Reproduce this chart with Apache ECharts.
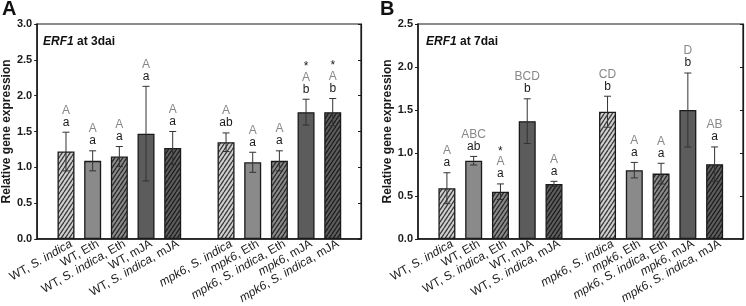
<!DOCTYPE html>
<html>
<head>
<meta charset="utf-8">
<script src="https://cdn.jsdelivr.net/npm/echarts@6/dist/echarts.min.js"></script>
<style>html,body{margin:0;padding:0;background:#fff;}#c{width:746px;height:306px;}</style>
</head>
<body>
<div id="c"></div>
<script>
// ---------- data ----------
const categories = ['WT, S. indica', 'WT, Eth', 'WT, S. indica, Eth', 'WT, mJA', 'WT, S. indica, mJA',
  'mpk6, S. indica', 'mpk6, Eth', 'mpk6, S. indica, Eth', 'mpk6, mJA', 'mpk6, S. indica, mJA'];
const meanA = [1.22, 1.09, 1.15, 1.47, 1.27, 1.35, 1.07, 1.09, 1.77, 1.77];
const errA  = [0.27, 0.14, 0.14, 0.66, 0.23, 0.13, 0.14, 0.14, 0.18, 0.19];
const upperA = ['A', 'A', 'A', 'A', 'A', 'A', 'A', 'A', 'A', 'A'];
const lowerA = ['a', 'a', 'a', 'a', 'a', 'ab', 'a', 'a', 'b', 'b'];
const starA  = ['', '', '', '', '', '', '', '', '*', '*'];
const meanB = [0.59, 0.91, 0.55, 1.37, 0.64, 1.48, 0.80, 0.76, 1.50, 0.87];
const errB  = [0.18, 0.05, 0.09, 0.26, 0.03, 0.18, 0.09, 0.12, 0.43, 0.20];
const upperB = ['A', 'ABC', 'A', 'BCD', 'A', 'CD', 'A', 'A', 'D', 'AB'];
const lowerB = ['a', 'ab', 'a', 'b', 'a', 'b', 'a', 'a', 'b', 'a'];
const starB  = ['', '', '*', '', '', '', '', '', '', ''];
const titleA = 'ERF1 at 3dai';
const titleB = 'ERF1 at 7dai';
const yTicksA = [0, 0.5, 1.0, 1.5, 2.0, 2.5, 3.0];
const yTicksB = [0, 0.5, 1.0, 1.5, 2.0, 2.5];

// ---------- styling ----------
const FONT = 'Liberation Sans, Arial, Helvetica, sans-serif';
function hatch(base, line) {
  const w = 4, h = 6;
  const c = document.createElement('canvas');
  c.width = w; c.height = h;
  const g = c.getContext('2d');
  g.fillStyle = base; g.fillRect(0, 0, w, h);
  g.strokeStyle = line; g.lineWidth = 1.3;
  g.beginPath();
  for (const dx of [-w, 0, w]) { g.moveTo(dx, h); g.lineTo(dx + w, 0); }
  g.stroke();
  return { image: c, repeat: 'repeat' };
}
const fills = [
  hatch('#d0d0d0', '#3a3a3a'),
  '#8a8a8a',
  hatch('#8a8a8a', '#2a2a2a'),
  '#5c5c5c',
  hatch('#5e5e5e', '#1e1e1e')
];
const xPos = categories.map((_, i) => i < 5 ? i : i + 1);

function labelText(s) {
  return s.replace('S. indica', '{i|S. indica}').replace('mpk6', '{i|mpk6}');
}

function makePanel(gi, means, errs, upper, lower, star, maxY, ticks) {
  const grid = gi === 0 ? { left: 35, top: 24, width: 326, height: 216 } : { left: 418, top: 24, width: 325, height: 215 };
  Object.assign(grid, { show: true, borderColor: '#1a1a1a', borderWidth: 1.2, backgroundColor: 'transparent' });
  const xAxis = {
    type: 'value', gridIndex: gi, min: -1.08, max: 11.06,
    axisLine: { show: true, onZero: false, lineStyle: { color: '#1a1a1a', width: 1.5 } },
    axisTick: { show: false }, splitLine: { show: false },
    axisLabel: {
      customValues: xPos.map(v => v + 0.2),
      rotate: 30, margin: 4, fontSize: 12, color: '#1a1a1a', fontFamily: FONT,
      formatter: v => labelText(categories[xPos.indexOf(Math.round(v))] || ''),
      rich: { i: { fontStyle: 'italic', fontSize: 12, color: '#1a1a1a', fontFamily: FONT } }
    }
  };
  const yLeft = {
    type: 'value', gridIndex: gi, min: 0, max: maxY, interval: 0.5, position: 'left',
    name: 'Relative gene expression', nameLocation: 'middle', nameGap: 23,
    nameTextStyle: { fontWeight: 'bold', fontSize: 12, color: '#1a1a1a', fontFamily: FONT },
    axisLine: { show: true, onZero: false, lineStyle: { color: '#1a1a1a', width: 1.5 } },
    axisTick: { show: true, length: 3, lineStyle: { color: '#1a1a1a' } },
    splitLine: { show: false },
    axisLabel: { customValues: ticks, margin: 5, fontSize: 11, fontWeight: 'bold', color: '#1a1a1a', fontFamily: FONT,
      formatter: v => v.toFixed(1) }
  };
  const yRight = {
    type: 'value', gridIndex: gi, min: 0, max: maxY, interval: 0.5, position: 'right',
    axisLine: { show: true, onZero: false, lineStyle: { color: '#1a1a1a', width: 1.2 } },
    axisTick: { show: true, inside: true, length: 3, lineStyle: { color: '#1a1a1a' } },
    axisLabel: { show: false }, splitLine: { show: false }
  };
  const bars = {
    type: 'bar', xAxisIndex: gi, yAxisIndex: gi * 2, barWidth: 17,
    data: means.map((m, i) => ({
      value: [xPos[i], m],
      itemStyle: { color: fills[i % 5], borderColor: '#1a1a1a', borderWidth: 1.3 }
    })),
    z: 2
  };
  const errSeries = {
    type: 'custom', xAxisIndex: gi, yAxisIndex: gi * 2, z: 5,
    data: means.map((m, i) => [xPos[i], m - errs[i], m + errs[i], i]),
    renderItem: (params, api) => {
      const x = api.value(0), lo = api.value(1), hi = api.value(2), idx = api.value(3);
      const pLo = api.coord([x, lo]), pHi = api.coord([x, hi]);
      const cw = 3.5;
      const ls = { stroke: '#333', lineWidth: 1 };
      let txt = '';
      if (star[idx]) txt += '{s|' + star[idx] + '}\n';
      txt += '{u|' + upper[idx] + '}\n{l|' + lower[idx] + '}';
      return {
        type: 'group',
        children: [
          { type: 'line', shape: { x1: pLo[0], y1: pLo[1], x2: pHi[0], y2: pHi[1] }, style: ls },
          { type: 'line', shape: { x1: pLo[0] - cw, y1: pLo[1], x2: pLo[0] + cw, y2: pLo[1] }, style: ls },
          { type: 'line', shape: { x1: pHi[0] - cw, y1: pHi[1], x2: pHi[0] + cw, y2: pHi[1] }, style: ls },
          { type: 'text', x: pHi[0], y: pHi[1] - 4, style: {
              text: txt, align: 'center', verticalAlign: 'bottom', fontFamily: FONT,
              rich: {
                s: { fontSize: 12, lineHeight: 9, fill: '#1a1a1a', fontFamily: FONT, align: 'center' },
                u: { fontSize: 12, lineHeight: 12, fill: '#888', fontFamily: FONT, align: 'center' },
                l: { fontSize: 12, lineHeight: 12, fill: '#1a1a1a', fontFamily: FONT, align: 'center' }
              }
          } }
        ]
      };
    }
  };
  return { grid, xAxis, yAxes: [yLeft, yRight], series: [bars, errSeries] };
}

const pA = makePanel(0, meanA, errA, upperA, lowerA, starA, 3.0, yTicksA);
const pB = makePanel(1, meanB, errB, upperB, lowerB, starB, 2.5, yTicksB);

function titleRich(s) { return s.replace('ERF1', '{i|ERF1}'); }
const titleStyle = { fontSize: 12, fontWeight: 'bold', color: '#111', fontFamily: FONT,
  rich: { i: { fontStyle: 'italic', fontWeight: 'bold', fontSize: 12, color: '#111', fontFamily: FONT } } };

const option = {
  animation: false,
  backgroundColor: '#fff',
  title: [
    { text: 'A', left: 2, top: -1, padding: 0, textStyle: { fontSize: 20, fontWeight: 'bold', color: '#111', fontFamily: FONT } },
    { text: 'B', left: 380, top: -1, padding: 0, textStyle: { fontSize: 20, fontWeight: 'bold', color: '#111', fontFamily: FONT } },
    { text: titleRich(titleA), left: 43, top: 36, padding: 0, textStyle: titleStyle },
    { text: titleRich(titleB), left: 426, top: 36, padding: 0, textStyle: titleStyle }
  ],
  grid: [pA.grid, pB.grid],
  xAxis: [pA.xAxis, pB.xAxis],
  yAxis: [...pA.yAxes, ...pB.yAxes],
  series: [...pA.series, ...pB.series]
};
const chart = echarts.init(document.getElementById('c'), null, { renderer: 'canvas' });
chart.setOption(option);
</script>
</body>
</html>
